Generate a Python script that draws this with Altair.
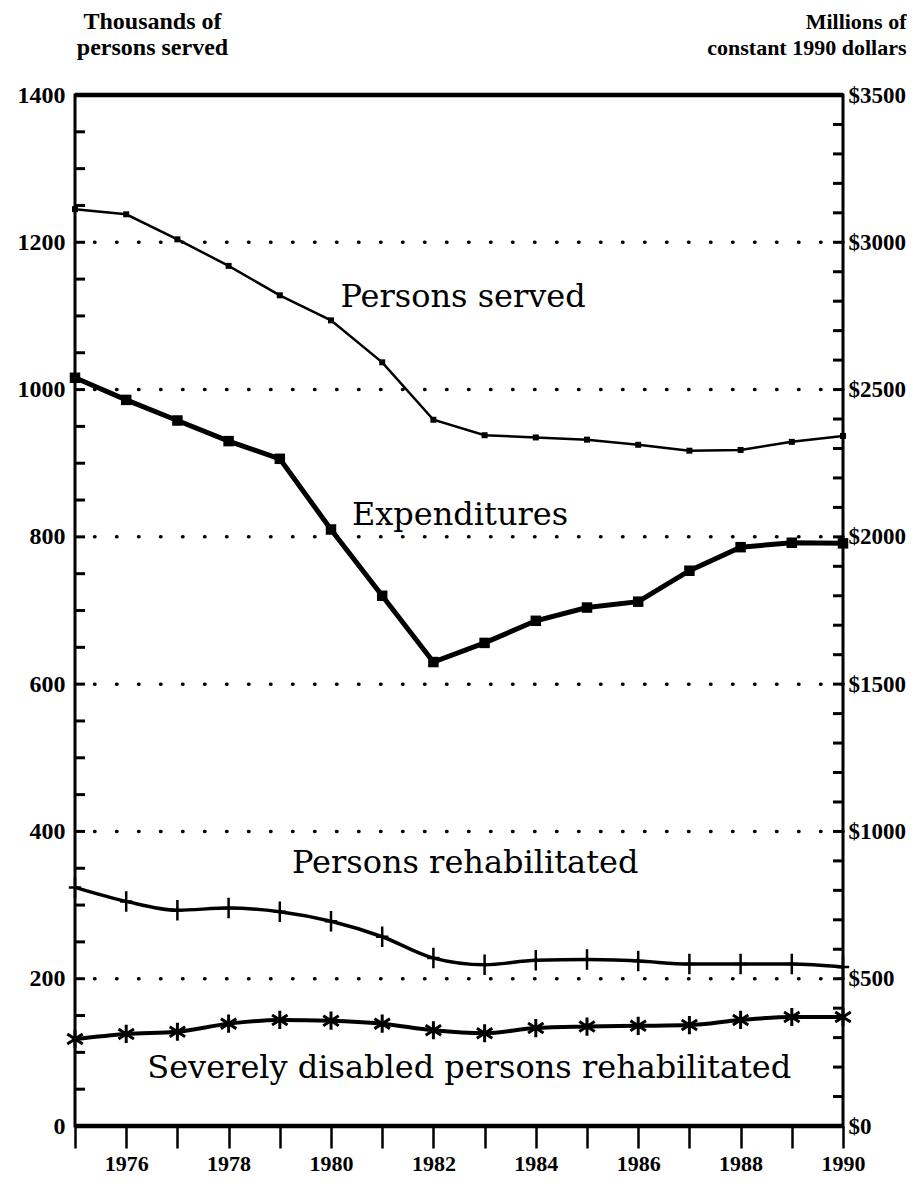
import altair as alt
import pandas as pd

# ---------------- data ----------------
years = list(range(1975, 1991))
persons_served = [1245, 1238, 1204, 1168, 1128, 1094, 1037, 959, 938, 935, 932, 925, 917, 918, 929, 937]
expenditures = [2540, 2465, 2395, 2325, 2265, 2025, 1800, 1575, 1640, 1715, 1760, 1780, 1885, 1965, 1980, 1978]
persons_rehab = [324, 305, 293, 296, 291, 278, 257, 228, 219, 225, 226, 224, 220, 220, 220, 216]
severely_rehab = [118, 125, 128, 139, 144, 143, 139, 130, 126, 133, 135, 136, 137, 144, 148, 148]

left_tick_values = [0, 200, 400, 600, 800, 1000, 1200, 1400]
right_tick_values = [0, 500, 1000, 1500, 2000, 2500, 3000, 3500]
grid_values = [200, 400, 600, 800, 1000, 1200]
left_minor = list(range(0, 1401, 50))
right_minor = list(range(0, 3501, 100))
frame_values = [0, 1400]

label_text = ["Persons served", "Expenditures", "Persons rehabilitated",
              "Severely disabled persons rehabilitated"]
label_year = [1982.58, 1982.52, 1982.62, 1982.7]
label_value = [1112, 816, 344, 65]

left_title = ["Thousands of", "persons served"]
right_title = ["Millions of", "constant 1990 dollars"]

# ---------------- tables ----------------
df = pd.DataFrame({"year": years, "served": persons_served, "exp": expenditures,
                   "rehab": persons_rehab, "severe": severely_rehab})
grid_df = pd.DataFrame({"g": grid_values})
lminor_df = pd.DataFrame({"v": left_minor})
rminor_df = pd.DataFrame({"v": right_minor})
frame_df = pd.DataFrame({"v": frame_values})
labels_df = pd.DataFrame({"text": label_text, "year": label_year, "value": label_value})

W, H = 768, 1031
AXFONT = "Liberation Serif"
SERIESFONT = "DejaVu Serif"

xs = alt.Scale(domain=[1975, 1990], nice=False, zero=False)
yl = alt.Scale(domain=[0, 1400], nice=False, zero=True)
yr = alt.Scale(domain=[0, 3500], nice=False, zero=True)

x_axis = alt.Axis(values=years, format="d",
                  labelExpr="datum.value % 2 == 0 ? datum.label : ''",
                  title=None, grid=False, domain=False,
                  ticks=True, tickSize=22, tickWidth=2.5, tickColor="black",
                  labelFont=AXFONT, labelFontWeight="bold", labelFontSize=22,
                  labelColor="black", labelPadding=5, labelFlush=False, labelOverlap=False)

left_axis = alt.Axis(values=left_tick_values, format="d", grid=False, domain=False, ticks=False,
                     labelFont=AXFONT, labelFontWeight="bold", labelFontSize=24,
                     labelColor="black", labelPadding=10, labelBaseline="middle",
                     labelFlush=False, labelOverlap=False,
                     title=left_title, titleAngle=0, titleFont=AXFONT, titleFontWeight="bold",
                     titleFontSize=24, titleColor="black", titleAlign="center",
                     titleBaseline="alphabetic", titleX=77, titleY=-67, titleLineHeight=26)
right_axis = alt.Axis(orient="right", values=right_tick_values, labelExpr="'$' + datum.value",
                      grid=False, domain=False, ticks=False,
                      labelFont=AXFONT, labelFontWeight="bold", labelFontSize=23,
                      labelColor="black", labelPadding=5, labelBaseline="middle",
                      labelFlush=False, labelOverlap=False,
                      title=right_title, titleAngle=0, titleFont=AXFONT, titleFontWeight="bold",
                      titleFontSize=22, titleColor="black", titleAlign="right",
                      titleBaseline="alphabetic", titleX=63, titleY=-67, titleLineHeight=26)


def X():
    return alt.X("year:Q", scale=xs, axis=x_axis)


def YL(field):
    return alt.Y(field, type="quantitative", scale=yl, axis=left_axis)


def YR(field):
    return alt.Y(field, type="quantitative", scale=yr, axis=right_axis)


# ---------------- left-scale layers ----------------
grid = alt.Chart(grid_df).mark_rule(color="black", strokeWidth=3.5, strokeCap="round",
                                    strokeDash=[0.5, 21.5]).encode(y=YL("g"))

frame = alt.Chart(frame_df).mark_rule(color="black", strokeWidth=4.5).encode(y=YL("v"))

lticks = alt.Chart(lminor_df).mark_rule(color="black", strokeWidth=3).encode(
    y=YL("v"), x=alt.value(0), x2=alt.value(10))

base = alt.Chart(df)

served_line = base.mark_line(color="black", strokeWidth=2.5).encode(x=X(), y=YL("served"))
served_pts = base.mark_point(shape="square", filled=True, color="black", size=36, opacity=1).encode(
    x=X(), y=YL("served"))

rehab_line = base.mark_line(color="black", strokeWidth=3.5, interpolate="monotone").encode(
    x=X(), y=YL("rehab"))
rehab_pts = base.mark_point(shape="M0,-1V1M-0.6,0H0.6", filled=False, color="black",
                            strokeWidth=2.5, size=420, opacity=1).encode(x=X(), y=YL("rehab"))

sev_line = base.mark_line(color="black", strokeWidth=4, interpolate="monotone").encode(
    x=X(), y=YL("severe"))
sev_pts = base.mark_point(shape="M0,-1V1M-0.85,-0.55L0.85,0.55M-0.85,0.55L0.85,-0.55",
                          filled=False, color="black", strokeWidth=3, size=330, opacity=1).encode(
    x=X(), y=YL("severe"))

labels = alt.Chart(labels_df).mark_text(font=SERIESFONT, fontSize=32, color="black",
                                        align="center", baseline="alphabetic").encode(
    x=X(), y=YL("value"), text="text:N")

left_group = alt.layer(grid, frame, lticks, served_line, served_pts, rehab_line, rehab_pts,
                       sev_line, sev_pts, labels)

# ---------------- right-scale layers ----------------
rticks = alt.Chart(rminor_df).mark_rule(color="black", strokeWidth=3).encode(
    y=YR("v"), x=alt.value(W - 10), x2=alt.value(W))

exp_line = base.mark_line(color="black", strokeWidth=5).encode(x=X(), y=YR("exp"))
exp_pts = base.mark_point(shape="square", filled=True, color="black", size=110, opacity=1).encode(
    x=X(), y=YR("exp"))

right_group = alt.layer(rticks, exp_line, exp_pts)

chart = alt.layer(left_group, right_group).resolve_scale(y="independent").properties(
    width=W, height=H,
    autosize=alt.AutoSizeParams(type="none"),
    padding={"left": 67, "top": 87, "right": 64, "bottom": 50},
    background="white",
).configure_view(stroke="black", strokeWidth=3)

chart.save("out.html", embed_options={"renderer": "svg", "actions": False})
